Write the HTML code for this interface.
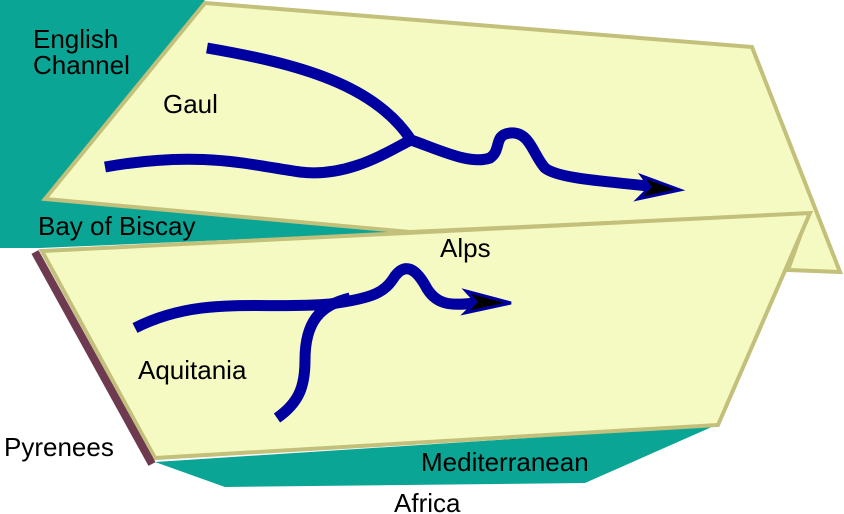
<!DOCTYPE html>
<html><head><meta charset="utf-8"><style>
html,body{margin:0;padding:0;background:#fff;}
svg{display:block;}
text{font-family:"Liberation Sans",sans-serif;font-size:26px;fill:#000;}
</style></head><body>
<svg width="844" height="514" viewBox="0 0 844 514" xmlns="http://www.w3.org/2000/svg">
<polygon points="0,0 205,0 45,199 410,232 40,248 0,248" fill="#0aa594"/>
<polygon points="155,462 225,487 585,483 714,426" fill="#0aa594"/>
<polygon points="205,3 752,47 840,272 788,270 808,214 410,232 45,199" fill="#f5f9c2" stroke="#c2c07a" stroke-width="4" stroke-linejoin="miter"/>
<polygon points="42,251 810,213 718,425 155,458" fill="#f5f9c2" stroke="#c2c07a" stroke-width="4"/>
<line x1="35" y1="252" x2="152" y2="464" stroke="#6e3a4f" stroke-width="8"/>
<g fill="none" stroke="#0000a0" stroke-width="11" stroke-linecap="butt" stroke-linejoin="round">
<path d="M207,48 C300,64 375,85 411,140"/>
<path d="M105,167 C200,150 250,165 300,172 C350,178 390,150 411,140"/>
<path d="M411,140 C440,150 470,165 490,158 C502,150 493,135 510,133 C530,131 533,155 545,168 C560,180 620,182 655,187"/>
<path d="M135,328 C200,295 260,310 330,304 C375,298 385,292 395,276 C405,263 415,268 425,285 C435,305 450,306 475,303"/>
<path d="M277,418 C300,402 305,385 305,360 C305,322 320,305 350,298"/>
</g>
<polygon points="680,190 642,176 650,187 638,199" fill="#000" stroke="#0000a0" stroke-width="3" stroke-linejoin="miter"/>
<polygon points="511,303 466,291 476,302 465,313" fill="#000" stroke="#0000a0" stroke-width="3" stroke-linejoin="miter"/>
<text x="33" y="48">English</text>
<text x="33" y="74">Channel</text>
<text x="163" y="113">Gaul</text>
<text x="38" y="235">Bay of Biscay</text>
<text x="440" y="257">Alps</text>
<text x="138" y="379">Aquitania</text>
<text x="4" y="456">Pyrenees</text>
<text x="421" y="471">Mediterranean</text>
<text x="394" y="512">Africa</text>
</svg>
</body></html>
